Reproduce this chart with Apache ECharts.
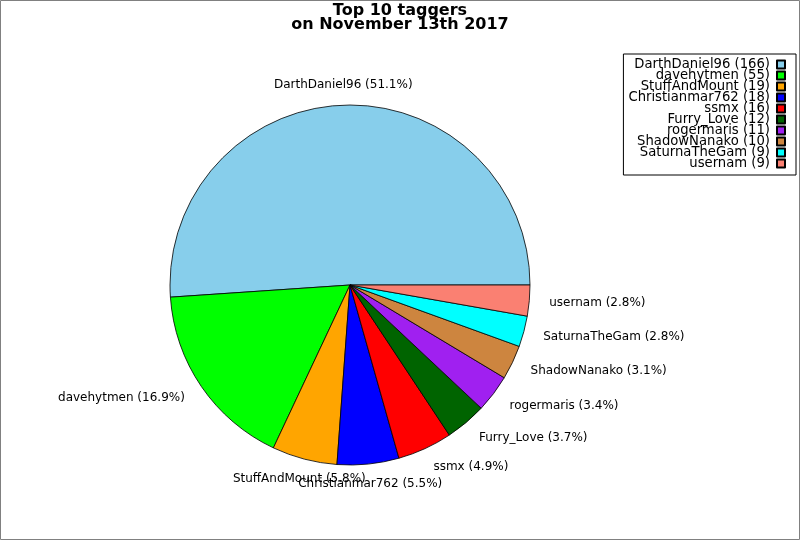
<!DOCTYPE html>
<html><head><meta charset="utf-8">
<script src="https://cdn.jsdelivr.net/npm/echarts@6/dist/echarts.min.js"></script>
<style>html,body{margin:0;padding:0;background:#fff}#c{width:800px;height:540px}</style>
</head><body><div id="c"></div>
<script>
const names = ['DarthDaniel96','davehytmen','StuffAndMount','Christianmar762','ssmx','Furry_Love','rogermaris','ShadowNanako','SaturnaTheGam','usernam'];
const values = [166,55,19,18,16,12,11,10,9,9];
const colors = ['#87CEEB','#00FF00','#FFA500','#0000FF','#FF0000','#006400','#A020F0','#CD853F','#00FFFF','#FA8072'];
const titleLines = ['Top 10 taggers','on November 13th 2017'];

const total = values.reduce((a,b)=>a+b,0);
const midCos = [];
let acc = 0;
values.forEach(v => { const mid = (acc + v/2)/total*2*Math.PI; midCos.push(Math.cos(mid)); acc += v; });

const FONT = 'DejaVu Sans';
const chart = echarts.init(document.getElementById('c'));
chart.setOption({
  animation: false,
  backgroundColor: '#fff',
  title: {
    text: titleLines.join('\n'), left: 'center', top: -1,
    textStyle: { fontFamily: FONT, fontSize: 16, fontWeight: 'bold', color: '#000', lineHeight: 14 }
  },
  legend: {
    orient: 'vertical', right: 4, top: 54, align: 'right',
    itemWidth: 8, itemHeight: 8, itemGap: -2,
    padding: [4, 10, 5, 5],
    backgroundColor: '#fff', borderColor: '#000', borderWidth: 1,
    icon: 'rect',
    textStyle: { fontFamily: FONT, fontSize: 13.2, color: '#000', lineHeight: 11, padding: [0, 2, 0, 0] },
    formatter: n => n + ' (' + values[names.indexOf(n)] + ')',
    data: names
  },
  graphic: [{ type: 'rect', shape: { x: 0.5, y: 0.5, width: 799, height: 539 }, style: { fill: 'none', stroke: '#808080', lineWidth: 1 }, silent: true }],
  series: [{
    type: 'pie',
    center: [350, 285],
    radius: 180,
    startAngle: 0,
    clockwise: false,
    avoidLabelOverlap: false,
    itemStyle: { borderColor: '#000', borderWidth: 0.8 },
    label: {
      show: true, position: 'outside', distanceToLabelLine: 0,
      fontFamily: FONT, fontSize: 12, color: '#000',
      formatter: p => p.name + ' (' + (p.value/total*100).toFixed(1) + '%)'
    },
    labelLine: { show: false, length: 20, length2: 0 },
    labelLayout: p => {
      if (Math.abs(midCos[p.dataIndex]) < 0.3) {
        const w = p.labelRect.width;
        return { dx: p.align === 'right' ? w/2 : -w/2 };
      }
      return {};
    },
    emphasis: { disabled: true },
    data: names.map((n,i) => ({ name: n, value: values[i], itemStyle: { color: colors[i] } }))
  }]
});
</script></body></html>
